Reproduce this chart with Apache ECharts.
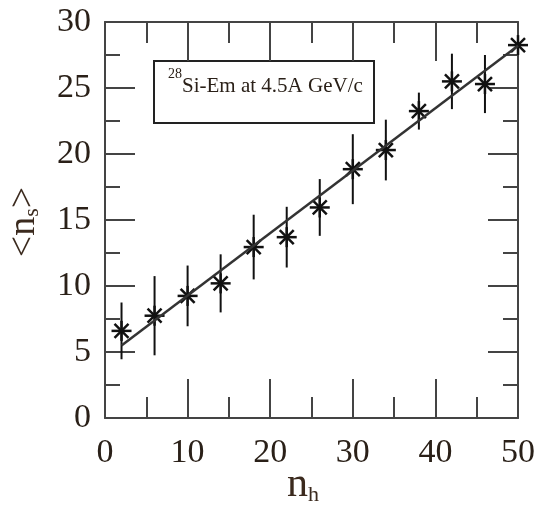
<!DOCTYPE html>
<html>
<head>
<meta charset="utf-8">
<script src="https://cdn.jsdelivr.net/npm/echarts@6/dist/echarts.min.js"></script>
<style>
	html, body { margin: 0; padding: 0; background: #fff; }
	#chart { width: 538px; height: 510px; }
</style>
</head>
<body>
<div id="chart"></div>
<script>
// n_h bins, mean n_s and error half-lengths
var nh = [2, 6, 10, 14, 18, 22, 26, 30, 34, 38, 42, 46, 50]
var ns = [6.6, 7.75, 9.25, 10.2, 12.95, 13.7, 15.95, 18.85, 20.3, 23.25, 25.5, 25.3, 28.25]
var nsErr = [2.15, 3.0, 2.3, 2.2, 2.45, 2.3, 2.15, 2.65, 2.3, 1.4, 2.1, 2.2, 0.3]
// straight-line fit end points
var fitX = [2, 50]
var fitY = [5.5, 28.2]
var xTicks = [0, 10, 20, 30, 40, 50]
var yTicks = [0, 5, 10, 15, 20, 25, 30]

var FONT = 'Liberation Serif'
var INK = '#2a2018'
var AXIS = '#444'

var chart = echarts.init(document.getElementById('chart'))

var points = nh.map(function (x, i) { return [x, ns[i], nsErr[i]] })
var fit = fitX.map(function (x, i) { return [x, fitY[i]] })

function render_point (params, api) {
	var x = api.value(0), y = api.value(1), e = api.value(2)
	var c = api.coord([x, y])
	var top = api.coord([x, y + e])
	var bot = api.coord([x, y - e])
	var s = 10, d = 7
	var segs = [
		[top, bot, 2],
		[[c[0], c[1] - s], [c[0], c[1] + s], 2.5],
		[[c[0] - s, c[1]], [c[0] + s, c[1]], 2.5],
		[[c[0] - d, c[1] - d], [c[0] + d, c[1] + d], 2.5],
		[[c[0] - d, c[1] + d], [c[0] + d, c[1] - d], 2.5]
	]
	return {
		type: 'group',
		children: segs.map(function (p) {
			return {
				type: 'line',
				shape: {x1: p[0][0], y1: p[0][1], x2: p[1][0], y2: p[1][1]},
				style: {stroke: '#111', lineWidth: p[2]}
			}
		})
	}
}

function make_x (pos, show) {
	return {
		type: 'value', position: pos, min: 0, max: 50, interval: 10,
		axisLine: {show: true, onZero: false, lineStyle: {color: AXIS, width: 2}},
		axisTick: {show: true, inside: true, length: 39, lineStyle: {color: AXIS, width: 2}},
		minorTick: {show: true, splitNumber: 2, length: 21, lineStyle: {color: AXIS, width: 2}},
		splitLine: {show: false},
		axisLabel: {
			show: show, color: INK, fontFamily: FONT, fontSize: 34, margin: 18,
			formatter: function (v) { return xTicks.indexOf(v) >= 0 ? String(v) : '' }
		}
	}
}

function make_y (pos, show) {
	return {
		type: 'value', position: pos, min: 0, max: 30, interval: 5,
		axisLine: {show: true, onZero: false, lineStyle: {color: AXIS, width: 2}},
		axisTick: {show: true, inside: true, length: 30, lineStyle: {color: AXIS, width: 2}},
		minorTick: {show: true, splitNumber: 2, length: 15, lineStyle: {color: AXIS, width: 2}},
		splitLine: {show: false},
		axisLabel: {
			show: show, color: INK, fontFamily: FONT, fontSize: 34, margin: 14,
			formatter: function (v) { return yTicks.indexOf(v) >= 0 ? String(v) : '' }
		}
	}
}

var option = {
	animation: false,
	backgroundColor: '#fff',
	grid: {left: 105, right: 16, top: 22, bottom: 92},
	xAxis: [make_x('bottom', true), make_x('top', false)],
	yAxis: [make_y('left', true), make_y('right', false)],
	series: [
		{
			type: 'line', data: fit, showSymbol: false,
			lineStyle: {color: '#333', width: 2.5}
		},
		{
			type: 'custom', data: points, renderItem: render_point
		}
	],
	graphic: [
		{
			type: 'group', left: 153, top: 60,
			children: [
				{type: 'rect', shape: {x: 0, y: 0, width: 220, height: 62},
					style: {fill: '#fff', stroke: '#222', lineWidth: 2}},
				{type: 'text', x: 14, y: 6, style: {
					text: '{sup|28}{t|Si-Em at 4.5A GeV/c}',
					rich: {
						sup: {fontFamily: FONT, fontSize: 14, fill: INK, verticalAlign: 'top'},
						t: {fontFamily: FONT, fontSize: 21, fill: INK, padding: [9, 0, 0, 0]}
					}
				}}
			]
		},
		{
			type: 'text', x: 24, y: 222, rotation: Math.PI / 2,
			style: {
				text: '{a|<n}{s|s}{a|>}', align: 'center', verticalAlign: 'middle',
				rich: {
					a: {fontFamily: FONT, fontSize: 38, fill: '#3b2a1e'},
					s: {fontFamily: FONT, fontSize: 22, fill: '#3b2a1e', verticalAlign: 'bottom', padding: [14, 0, 0, 0]}
				}
			}
		},
		{
			type: 'text', x: 303, y: 485,
			style: {
				text: '{a|n}{s|h}', align: 'center', verticalAlign: 'middle',
				rich: {
					a: {fontFamily: FONT, fontSize: 42, fill: '#3b2a1e'},
					s: {fontFamily: FONT, fontSize: 22, fill: '#3b2a1e', verticalAlign: 'bottom', padding: [18, 0, 0, 0]}
				}
			}
		}
	]
}

chart.setOption(option)
</script>
</body>
</html>
